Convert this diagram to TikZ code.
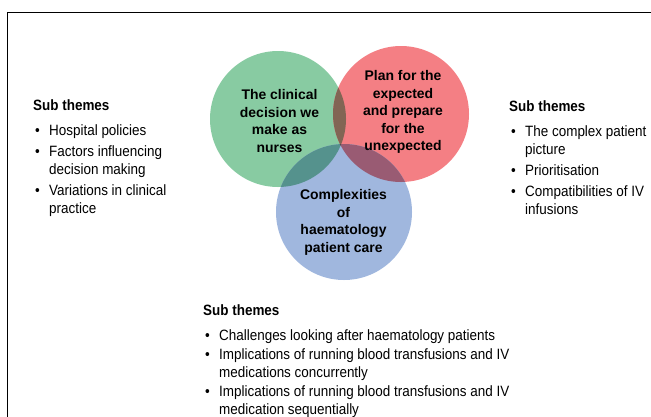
\documentclass[tikz,border=0pt]{standalone}
\usepackage{fontspec}
\setmainfont{Liberation Sans}
\newfontfamily\condfont{Liberation Sans}[FakeStretch=0.9]

% circle fills and their multiplied overlaps
\definecolor{cgreen}{RGB}{136,203,162}
\definecolor{cred}{RGB}{244,127,132}
\definecolor{cblue}{RGB}{160,183,222}
\definecolor{cgr}{RGB}{130,101,84}
\definecolor{cgb}{RGB}{85,146,141}
\definecolor{crb}{RGB}{153,91,115}
\definecolor{cgrb}{RGB}{82,72,73}

\newcommand\thmbul{\hspace*{2bp}\makebox[14bp][l]{\textbullet}}
\newcommand\thmind{\hspace*{16bp}}

\tikzset{
  theme/.style={circle, minimum size=136bp, inner sep=0pt, draw=none},
  themetext/.style={align=center, inner sep=0pt, text=black,
    font={\bfseries\fontsize{14}{17.6}\selectfont}},
  listblock/.style={align=left, inner sep=0pt, anchor=north west,
    font={\condfont\fontsize{15}{18}\selectfont}},
}

\begin{document}
\begin{tikzpicture}[x=1bp,y=-1bp]
\useasboundingbox (0,0) rectangle (651,416);

% outer frame, running off the right and bottom edges
\draw[line width=1.4bp, black] (7.7,440) -- (7.7,12.7) -- (680,12.7);

% the three circles
\node[theme, fill=cgreen] (gC) at (278,119) {};
\node[theme, fill=cred]   (rC) at (401,114) {};
\node[theme, fill=cblue]  (bC) at (344,212) {};

% pairwise overlaps
\begin{scope}
  \clip (gC.center) circle[radius=68bp];
  \fill[cgr] (rC.center) circle[radius=68bp];
\end{scope}
\begin{scope}
  \clip (gC.center) circle[radius=68bp];
  \fill[cgb] (bC.center) circle[radius=68bp];
\end{scope}
\begin{scope}
  \clip (rC.center) circle[radius=68bp];
  \fill[crb] (bC.center) circle[radius=68bp];
\end{scope}
\begin{scope}
  \clip (gC.center) circle[radius=68bp];
  \clip (rC.center) circle[radius=68bp];
  \fill[cgrb] (bC.center) circle[radius=68bp];
\end{scope}

% circle captions
\node[themetext] (gT) at (279.5,121) {The clinical\\decision we\\make as\\nurses};
\node[themetext] (rT) at (403,112) {Plan for the\\expected\\and prepare\\for the\\unexpected};
\node[themetext] (bT) at (343.5,222.5) {Complexities\\of\\haematology\\patient care};

% sub-theme lists
\node[listblock] (lL) at (33,99) {%
{\bfseries Sub themes}\\[8bp]
\thmbul Hospital policies\\[3bp]
\thmbul Factors influencing\\
\thmind decision making\\[3bp]
\thmbul Variations in clinical\\
\thmind practice};

\node[listblock] (rL) at (509,100.5) {%
{\bfseries Sub themes}\\[7bp]
\thmbul The complex patient\\
\thmind picture\\[3bp]
\thmbul Prioritisation\\[3bp]
\thmbul Compatibilities of IV\\
\thmind infusions};

\node[listblock, font={\condfont\fontsize{15}{17.5}\selectfont}] (bL) at (203,304.5) {%
{\bfseries Sub themes}\\[7.5bp]
\thmbul Challenges looking after haematology patients\\[2bp]
\thmbul Implications of running blood transfusions and IV\\
\thmind medications concurrently\\[2bp]
\thmbul Implications of running blood transfusions and IV\\
\thmind medication sequentially};
\end{tikzpicture}
\end{document}
